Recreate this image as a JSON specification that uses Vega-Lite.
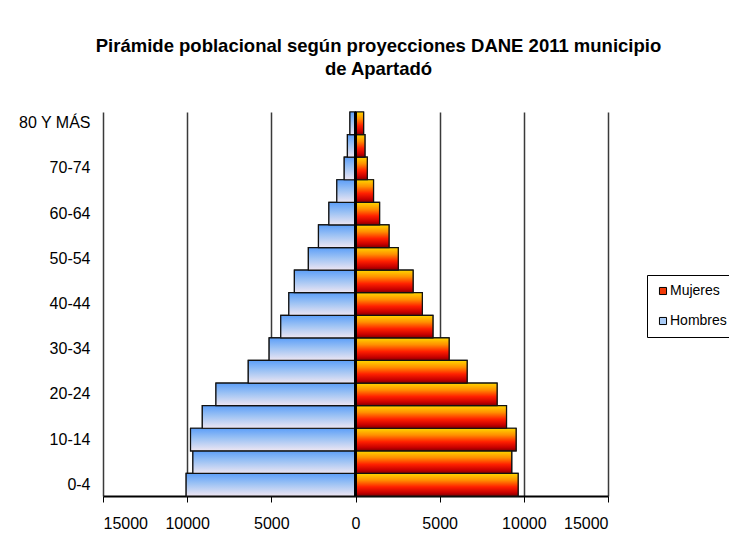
{
  "$schema": "https://vega.github.io/schema/vega-lite/v6.json",
  "width": 505,
  "height": 384,
  "autosize": {"type": "none"},
  "padding": {"left": 103, "top": 112, "right": 121, "bottom": 45},
  "background": "white",
  "config": {
    "font": "Liberation Sans",
    "view": {"stroke": null}
  },
  "title": {
    "text": ["Pirámide poblacional según proyecciones DANE 2011 municipio", "de Apartadó"],
    "font": "Liberation Sans",
    "fontSize": 18.5,
    "fontWeight": "bold",
    "color": "black",
    "anchor": "middle",
    "dx": 23,
    "offset": 33,
    "lineHeight": 23
  },
  "data": {
    "values": [
      {"edad": "0-4", "sexo": "Hombres", "poblacion": -10060},
      {"edad": "5-9", "sexo": "Hombres", "poblacion": -9660},
      {"edad": "10-14", "sexo": "Hombres", "poblacion": -9800},
      {"edad": "15-19", "sexo": "Hombres", "poblacion": -9100},
      {"edad": "20-24", "sexo": "Hombres", "poblacion": -8290},
      {"edad": "25-29", "sexo": "Hombres", "poblacion": -6370},
      {"edad": "30-34", "sexo": "Hombres", "poblacion": -5130},
      {"edad": "35-39", "sexo": "Hombres", "poblacion": -4440},
      {"edad": "40-44", "sexo": "Hombres", "poblacion": -3960},
      {"edad": "45-49", "sexo": "Hombres", "poblacion": -3630},
      {"edad": "50-54", "sexo": "Hombres", "poblacion": -2800},
      {"edad": "55-59", "sexo": "Hombres", "poblacion": -2200},
      {"edad": "60-64", "sexo": "Hombres", "poblacion": -1580},
      {"edad": "65-69", "sexo": "Hombres", "poblacion": -1110},
      {"edad": "70-74", "sexo": "Hombres", "poblacion": -670},
      {"edad": "75-79", "sexo": "Hombres", "poblacion": -480},
      {"edad": "80 Y MÁS", "sexo": "Hombres", "poblacion": -330},
      {"edad": "0-4", "sexo": "Mujeres", "poblacion": 9660},
      {"edad": "5-9", "sexo": "Mujeres", "poblacion": 9280},
      {"edad": "10-14", "sexo": "Mujeres", "poblacion": 9540},
      {"edad": "15-19", "sexo": "Mujeres", "poblacion": 8970},
      {"edad": "20-24", "sexo": "Mujeres", "poblacion": 8410},
      {"edad": "25-29", "sexo": "Mujeres", "poblacion": 6630},
      {"edad": "30-34", "sexo": "Mujeres", "poblacion": 5560},
      {"edad": "35-39", "sexo": "Mujeres", "poblacion": 4600},
      {"edad": "40-44", "sexo": "Mujeres", "poblacion": 3970},
      {"edad": "45-49", "sexo": "Mujeres", "poblacion": 3420},
      {"edad": "50-54", "sexo": "Mujeres", "poblacion": 2540},
      {"edad": "55-59", "sexo": "Mujeres", "poblacion": 1990},
      {"edad": "60-64", "sexo": "Mujeres", "poblacion": 1430},
      {"edad": "65-69", "sexo": "Mujeres", "poblacion": 1070},
      {"edad": "70-74", "sexo": "Mujeres", "poblacion": 700},
      {"edad": "75-79", "sexo": "Mujeres", "poblacion": 560},
      {"edad": "80 Y MÁS", "sexo": "Mujeres", "poblacion": 480}
    ]
  },
  "encoding": {
    "y": {
      "field": "edad",
      "type": "nominal",
      "scale": {
        "domain": ["80 Y MÁS", "75-79", "70-74", "65-69", "60-64", "55-59", "50-54", "45-49", "40-44", "35-39", "30-34", "25-29", "20-24", "15-19", "10-14", "5-9", "0-4"],
        "paddingInner": 0,
        "paddingOuter": 0
      },
      "axis": {
        "title": null,
        "values": ["80 Y MÁS", "70-74", "60-64", "50-54", "40-44", "30-34", "20-24", "10-14", "0-4"],
        "domain": false,
        "ticks": false,
        "labelPadding": 13,
        "labelFontSize": 16,
        "labelColor": "black",
        "labelFont": "Liberation Sans"
      }
    },
    "x": {
      "field": "poblacion",
      "type": "quantitative",
      "scale": {"domain": [-15000, 15000], "nice": false},
      "axis": {
        "title": null,
        "values": [-15000, -10000, -5000, 0, 5000, 10000, 15000],
        "labelExpr": "format(abs(datum.value), 'd')",
        "labelFontSize": 16,
        "labelColor": "black",
        "labelFont": "Liberation Sans",
        "labelPadding": 13,
        "domainColor": "black",
        "domainWidth": 2,
        "tickColor": "black",
        "tickSize": 6,
        "tickWidth": 1,
        "grid": true,
        "gridColor": "#3a3a3a",
        "gridWidth": 1.5
      }
    }
  },
  "layer": [
    {
      "mark": {"type": "bar", "stroke": "#111111", "strokeWidth": 1.2},
      "encoding": {
        "color": {
          "field": "sexo",
          "type": "nominal",
          "scale": {
            "domain": ["Mujeres", "Hombres"],
            "range": ["#f03a08", "#a9cbf6"]
          },
          "legend": {
            "title": null,
            "orient": "none",
            "legendX": 544,
            "legendY": 163,
            "strokeColor": "black",
            "fillColor": "white",
            "padding": 9,
            "labelFontSize": 14,
            "labelFont": "Liberation Sans",
            "labelColor": "black",
            "labelOffset": 0,
            "symbolType": "square",
            "symbolSize": 50,
            "symbolStrokeColor": "black",
            "symbolStrokeWidth": 1,
            "symbolOpacity": 1,
            "rowPadding": 16
          }
        }
      }
    },
    {
      "mark": {"type": "bar", "stroke": "#111111", "strokeWidth": 1.2},
      "encoding": {
        "color": {
          "condition": {
            "test": "datum.sexo === 'Hombres'",
            "value": {"gradient": "linear", "x1": 0, "y1": 0, "x2": 0, "y2": 1, "stops": [
              {"offset": 0, "color": "#5c9ef8"},
              {"offset": 0.45, "color": "#9cc2f4"},
              {"offset": 1, "color": "#eee6f2"}
            ]}
          },
          "value": {"gradient": "linear", "x1": 0, "y1": 0, "x2": 0, "y2": 1, "stops": [
            {"offset": 0, "color": "#ffd800"},
            {"offset": 0.3, "color": "#ff9000"},
            {"offset": 0.6, "color": "#ff2000"},
            {"offset": 0.85, "color": "#c80000"},
            {"offset": 1, "color": "#800000"}
          ]}
        }
      }
    },
    {
      "mark": {"type": "rule", "color": "black", "strokeWidth": 2},
      "encoding": {"x": {"datum": 0}, "y": null}
    }
  ]
}
